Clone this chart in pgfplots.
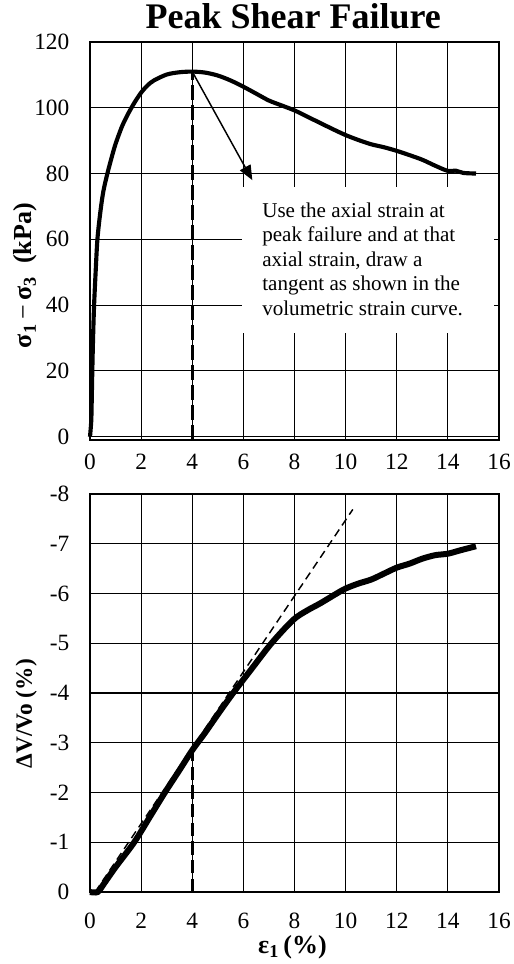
\documentclass[border=0pt]{standalone}
\usepackage{fontspec}
\setmainfont{Liberation Serif}
\usepackage{pgfplots}
\pgfplotsset{compat=1.18}
\usetikzlibrary{arrows.meta}

\pgfplotstableread{
x y
0 0
0.05 5
0.07 12
0.09 20
0.12 30
0.16 40
0.22 50
0.29 60
0.40 68
0.52 74.5
0.68 80
0.85 85
1.0 89
1.25 94.3
1.5 98.3
1.75 101.7
2.0 104.6
2.25 106.8
2.5 108.3
3.0 110.1
3.5 110.8
4.0 111
4.5 110.7
5.0 109.8
5.5 108.3
6.0 106.4
6.5 104.3
7.0 102.2
7.5 100.7
8.0 99.2
8.5 97.3
9.0 95.4
9.5 93.5
10.0 91.7
10.5 90.2
11.0 88.9
11.5 88.0
12.0 86.9
12.5 85.6
13.0 84.2
13.5 82.4
14.0 80.8
14.3 80.9
14.6 80.2
15.1 80.0
}\stress

\pgfplotstableread{
x y
0 0
0.3 0
0.55 -0.17
1.0 -0.5
1.73 -1.0
2.33 -1.5
2.93 -2.0
3.5 -2.45
4.0 -2.85
4.5 -3.2
5.0 -3.57
5.6 -4.0
6.3 -4.47
7.1 -5.0
7.95 -5.47
8.5 -5.66
9.0 -5.8
9.65 -6.0
10.0 -6.1
10.5 -6.2
11.0 -6.28
11.5 -6.4
12.0 -6.52
12.5 -6.6
13.0 -6.7
13.5 -6.77
14.0 -6.8
14.5 -6.87
15.1 -6.95
}\volume

\begin{document}
\begin{tikzpicture}
\useasboundingbox (0,0) rectangle (385.5pt,723pt);
\pgfplotsset{
 common/.style={
  scale only axis, width=306.75pt, height=298.5pt,
  xmin=0, xmax=16, xtick={0,2,...,16},
  grid=major, major grid style={black, line width=0.8pt},
  axis line style={line width=1.6pt},
  major tick length=0pt,
  tick label style={font=\fontsize{17.5}{19}\selectfont},
  /pgf/number format/assume math mode=true,
  yticklabel style={xshift=-12pt},
  clip=false,
 }
}
\begin{axis}[common, at={(67.5pt,393pt)}, anchor=south west,
 ymin=-1, ymax=120, ytick={0,20,...,120},
 xticklabel style={text height=11.8pt, text depth=0pt, inner sep=0pt, yshift=-10.3pt},
 title={Peak Shear Failure},
 title style={font=\bfseries\fontsize{27}{30}\selectfont, at={(axis description cs:0.497,1.015)}, anchor=base},
 ylabel={\textbf{σ\textsubscript{1}}\,−\,\textbf{σ\textsubscript{3}}\ \ \textbf{(kPa)}},
 ylabel style={font=\fontsize{19.5}{21}\selectfont, at={(axis description cs:-0.158,0.413)}, anchor=center},
]
\addplot[black, line width=3.1pt, smooth, tension=0.5] table {\stress};
\addplot[black, line width=2.2pt, dash pattern=on 11pt off 4pt] coordinates {(4,-1) (4,111)};
\addplot[black, line width=1.1pt, -{Triangle[length=11pt,width=9pt]}] coordinates {(4,111) (6.35,78)};
\fill[white] (axis cs:5.95,31.5) rectangle (axis cs:15.8,75.9);
\node[anchor=north west, inner sep=0pt, align=left, font=\fontsize{15.8}{18.4}\selectfont] at (axis cs:6.73,71.2)
 {Use the axial strain at\\peak failure and at that\\axial strain, draw a\\tangent as shown in the\\volumetric strain curve.};
\end{axis}

\begin{axis}[common, at={(67.5pt,54pt)}, anchor=south west,
 ymin=-8, ymax=0, ytick={-8,-7,...,0}, y dir=reverse,
 xticklabel style={text height=11.8pt, text depth=0pt, inner sep=0pt, yshift=-15.5pt},
 xlabel={\textbf{ε\textsubscript{1}\,(\%)}},
 xlabel style={font=\fontsize{19.5}{21}\selectfont, inner sep=0pt, at={(axis description cs:0.495,-0.139)}, anchor=center},
 ylabel={\textbf{ΔV/Vo (\%)}},
 ylabel style={font=\fontsize{17.5}{20}\selectfont, at={(axis description cs:-0.156,0.448)}, anchor=center},
]
\addplot[black, line width=4.5pt, smooth, tension=0.5] table {\volume};
\addplot[black, line width=1.1pt, dash pattern=on 6pt off 3.75pt] coordinates {(0.2,0) (10.28,-7.69)};
\addplot[black, line width=2.2pt, dash pattern=on 10pt off 4pt] coordinates {(4,0) (4,-2.8)};
\end{axis}
\end{tikzpicture}
\end{document}
